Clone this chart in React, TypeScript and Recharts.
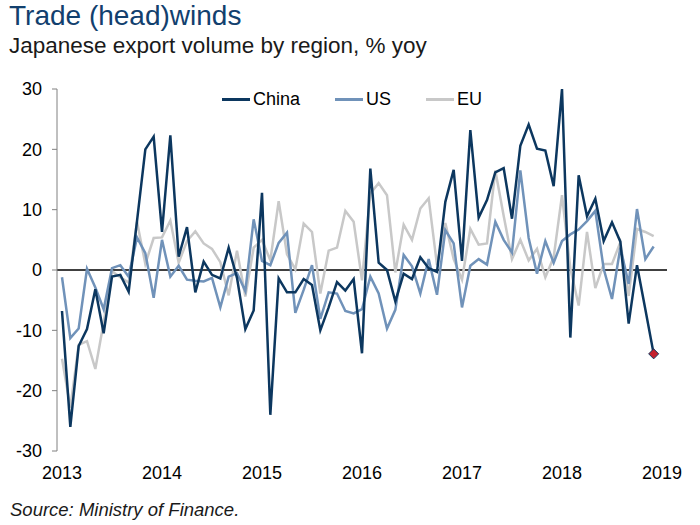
import React from 'react'
import { LineChart, Line, XAxis, YAxis, ReferenceLine } from 'recharts'

// monthly, Jan 2013 - Dec 2018
const years = [2013, 2014, 2015, 2016, 2017, 2018, 2019]
const yTicks = [-30, -20, -10, 0, 10, 20, 30]

const china = [
  -6.8, -26.0, -12.6, -9.8, -3.2, -10.5, -1.1, -0.8, -3.6, 8.1, 20.0, 22.1,
  6.3, 22.3, 2.2, 7.1, -3.7, 1.4, -0.8, -1.4, 3.7, -1.3, -9.8, -6.7,
  12.8, -24.0, -1.4, -3.7, -3.7, -1.5, -2.5, -10.0, -6.2, -2.0, -3.4, -1.5,
  -13.8, 16.8, 1.2, 0.0, -5.2, -0.6, -1.5, 2.1, 0.3, -0.3, 11.3, 16.6,
  1.5, 23.2, 8.7, 11.6, 16.2, 16.9, 8.5, 20.6, 24.1, 20.1, 19.8, 13.9,
  30.0, -11.2, 15.7, 8.9, 11.8, 4.8, 7.9, 4.7, -8.9, 0.8, -6.5, -13.9,
]

const us = [
  -1.2, -11.3, -9.7, 0.2, -2.9, -6.5, 0.3, 0.8, -1.1, 5.4, 2.8, -4.6,
  5.0, -1.1, 0.7, -1.6, -1.8, -1.9, -1.3, -6.2, -1.1, -0.5, -3.5, 8.4,
  1.5, 0.8, 4.5, 6.2, -7.1, -3.3, 0.8, -8.1, -3.7, -3.9, -6.8, -7.2,
  -6.5, -1.1, -3.9, -9.7, -6.6, 2.5, 0.6, -3.9, 1.8, -4.1, 6.6, 4.4,
  -6.2, 0.7, 1.8, 0.9, 8.0, 5.0, 2.9, 16.5, 5.3, -0.6, 4.8, 1.2,
  4.8, 5.9, 6.7, 8.1, 9.8, 0.2, -4.8, 3.7, -2.3, 10.1, 1.8, 3.9,
]

const eu = [
  -14.7, -22.8, -12.4, -11.8, -16.4, -8.7, -0.2, -1.2, -2.1, 8.0, 1.0, 5.3,
  5.4, 8.2, 1.2, 4.8, 6.4, 4.4, 3.5, 1.3, -4.2, 3.2, -4.4, 3.7,
  5.0, 1.6, 11.4, 2.6, 0.1, 7.7, 6.3, -3.9, 3.2, 3.7, 9.8, 8.0,
  -1.7, 12.7, 14.4, 12.4, -0.4, 7.5, 5.0, 10.2, 11.9, 0.8, 7.8, 1.8,
  -1.6, 6.8, 4.2, 4.4, 16.5, 9.0, 1.8, 5.0, 1.6, 3.5, -1.2, 2.1,
  12.4, 0.3, -5.9, 6.3, -3.0, 1.0, 1.0, 4.6, -4.3, 6.8, 6.3, 5.6,
]

const CHINA = '#0c375f'
const US = '#7092b9'
const EU = '#c8c8c8'
const FONT = '"Liberation Sans", Arial, sans-serif'

const data = china.map((v, i) => ({ i, china: v, us: us[i], eu: eu[i] }))
const xTicks = years.map((_, k) => k * 12)

function LastDiamond(props: any) {
  const { cx, cy, index } = props
  if (index !== china.length - 1) return null
  const r = 5
  return (
    <path
      d={`M${cx},${cy - r} L${cx + r},${cy} L${cx},${cy + r} L${cx - r},${cy} Z`}
      fill="#c4212e"
      stroke={CHINA}
      strokeWidth={1}
    />
  )
}

const legendItems = [
  { name: 'China', color: CHINA },
  { name: 'US', color: US },
  { name: 'EU', color: EU },
]

export default function App() {
  return (
    <div
      style={{
        position: 'absolute',
        left: 0,
        top: 0,
        width: 700,
        height: 525,
        background: '#fff',
        fontFamily: FONT,
      }}
    >
      <div style={{ position: 'absolute', left: 9, top: 0, fontSize: 28, color: '#12406e', whiteSpace: 'nowrap' }}>
        Trade (head)winds
      </div>
      <div style={{ position: 'absolute', left: 9, top: 33, fontSize: 22.5, color: '#1a1a1a', whiteSpace: 'nowrap' }}>
        Japanese export volume by region, % yoy
      </div>

      <div style={{ position: 'absolute', left: 222, top: 89, display: 'flex', fontSize: 18, color: '#000' }}>
        {legendItems.map((it) => (
          <div key={it.name} style={{ display: 'flex', alignItems: 'center', marginRight: 35 }}>
            <div style={{ width: 28, height: 3, background: it.color, marginRight: 3 }} />
            <span>{it.name}</span>
          </div>
        ))}
      </div>

      <div style={{ position: 'absolute', left: 0, top: 0 }}>
        <LineChart width={700} height={525} data={data} margin={{ top: 89, right: 33, bottom: 44, left: 7 }}>
          <XAxis
            dataKey="i"
            type="number"
            domain={[-0.6, 72.6]}
            ticks={xTicks}
            tickFormatter={(v: number) => String(years[v / 12])}
            axisLine={false}
            tickLine={false}
            tickSize={0}
            tickMargin={15}
            height={30}
            interval={0}
            tick={{ fontSize: 18, fill: '#000', fontFamily: FONT }}
          />
          <YAxis
            domain={[-30, 30]}
            ticks={yTicks}
            width={50}
            axisLine={{ stroke: '#808080' }}
            tickLine={{ stroke: '#808080' }}
            tickSize={5}
            tickMargin={10}
            interval={0}
            tick={{ fontSize: 18, fill: '#000', fontFamily: FONT }}
          />
          <ReferenceLine y={0} stroke="#000" strokeWidth={1.3} />
          <Line dataKey="eu" stroke={EU} strokeWidth={2.5} dot={false} isAnimationActive={false} />
          <Line dataKey="us" stroke={US} strokeWidth={2.5} dot={false} isAnimationActive={false} />
          <Line dataKey="china" stroke={CHINA} strokeWidth={2.5} dot={<LastDiamond />} isAnimationActive={false} />
        </LineChart>
      </div>

      <div style={{ position: 'absolute', left: 10, top: 499, fontSize: 18.5, fontStyle: 'italic', color: '#1a1a1a', whiteSpace: 'nowrap' }}>
        Source: Ministry of Finance.
      </div>
    </div>
  )
}
